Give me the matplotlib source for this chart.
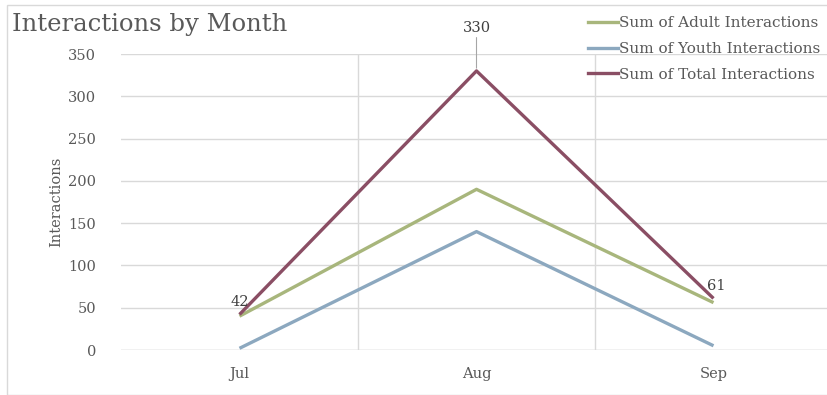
import matplotlib
matplotlib.use("Agg")
import matplotlib.pyplot as plt
from matplotlib.patches import Rectangle
from matplotlib.lines import Line2D

months = ["Jul", "Aug", "Sep"]
adult = [40, 190, 56]
youth = [2, 140, 5]
total = [42, 330, 61]
series_names = ["Sum of Adult Interactions", "Sum of Youth Interactions", "Sum of Total Interactions"]
colors = ["#A8B67C", "#8CA8BF", "#8A4E64"]
yticks = [0, 50, 100, 150, 200, 250, 300, 350]

plt.rcParams['font.family'] = ['DejaVu Serif']
txt = "#595959"

fig = plt.figure(figsize=(8.27, 3.95), dpi=100)
fig.patches.append(Rectangle((7/827, 0), 1, 1 - 5/395, transform=fig.transFigure,
                             fill=False, edgecolor="#D9D9D9", linewidth=1))

ax = fig.add_axes([121/827, 1 - 350/395, 711/827, (350 - 54)/395])
x = list(range(len(months)))
for vals, c, n in zip([adult, youth, total], colors, series_names):
    ax.plot(x, vals, color=c, linewidth=2.4, label=n, solid_capstyle='butt', zorder=3)

ax.set_xlim(-0.5, 2.5)
ax.set_ylim(0, 350)
ax.set_yticks(yticks)
ax.set_xticks(x)
ax.set_xticklabels(months)
for s in ax.spines.values():
    s.set_visible(False)
ax.grid(axis='y', color="#D9D9D9", linewidth=1)
for xv in [0.5, 1.5]:
    ax.axvline(xv, color="#D9D9D9", linewidth=1, zorder=0)
ax.axhline(0, color="#D9D9D9", linewidth=1, zorder=1)
ax.set_axisbelow(True)
ax.tick_params(length=0, colors=txt, labelsize=10.5)
ax.tick_params(axis='x', pad=12)
ax.tick_params(axis='y', pad=18)
ax.set_ylabel("Interactions", color=txt, fontsize=10.5, labelpad=3)

# data labels on total series
ax.annotate(str(total[0]), (x[0], total[0]), xytext=(0, 4), textcoords='offset points',
            ha='center', va='bottom', fontsize=10.5, color="#404040")
ax.annotate(str(total[1]), (x[1], total[1]), xytext=(0, 26), textcoords='offset points',
            ha='center', va='bottom', fontsize=10.5, color="#404040",
            arrowprops=dict(arrowstyle='-', color="#A6A6A6", lw=0.8, shrinkA=0, shrinkB=2))
ax.annotate(str(total[2]), (x[2], total[2]), xytext=(2, 4), textcoords='offset points',
            ha='center', va='bottom', fontsize=10.5, color="#404040")

fig.text(12/827, 1 - 25/395, "Interactions by Month", fontsize=17.5, color=txt,
         ha='left', va='center')

handles = [Line2D([0], [0], color=c, lw=2.4) for c in colors]
leg = fig.legend(handles, series_names, loc='upper left', bbox_to_anchor=(588/827, 1 - 16/395),
                 frameon=False, fontsize=11, handlelength=1.95, handletextpad=0.1,
                 labelspacing=0.78, labelcolor=txt, borderaxespad=0, borderpad=0)

fig.savefig("out.png", dpi=100)
